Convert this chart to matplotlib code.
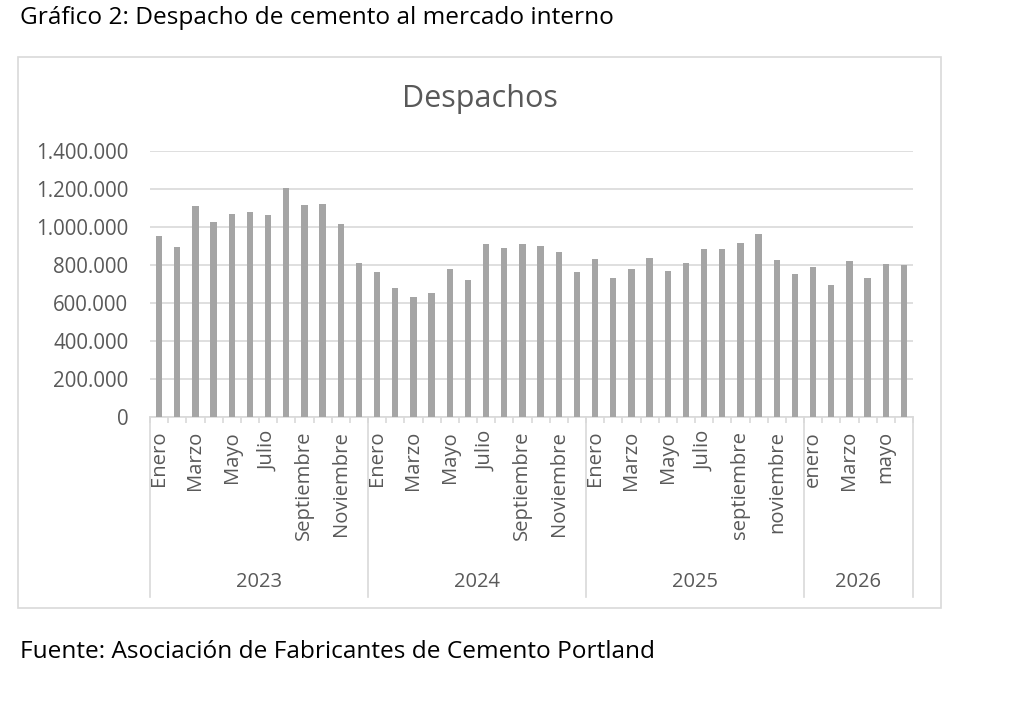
import numpy as np
import matplotlib
matplotlib.use("Agg")
import matplotlib.pyplot as plt
from matplotlib.patches import Rectangle
from matplotlib.ticker import FuncFormatter

# monthly dispatches (tn)
years = ["2023", "2024", "2025", "2026"]
despachos_2023 = [955000, 894000, 1111000, 1025000, 1071000, 1078000,
                  1064000, 1206000, 1116000, 1123000, 1017000, 808000]
despachos_2024 = [765000, 681000, 632000, 654000, 779000, 723000,
                  912000, 887000, 910000, 898000, 866000, 763000]
despachos_2025 = [830000, 733000, 779000, 835000, 770000, 808000,
                  886000, 884000, 915000, 964000, 826000, 753000]
despachos_2026 = [788000, 693000, 823000, 730000, 803000, 800000]

# month labels as shown (Excel skips every second one)
meses_2023 = ["Enero", "", "Marzo", "", "Mayo", "", "Julio", "",
              "Septiembre", "", "Noviembre", ""]
meses_2024 = ["Enero", "", "Marzo", "", "Mayo", "", "Julio", "",
              "Septiembre", "", "Noviembre", ""]
meses_2025 = ["Enero", "", "Marzo", "", "Mayo", "", "Julio", "",
              "septiembre", "", "noviembre", ""]
meses_2026 = ["enero", "", "Marzo", "", "mayo", ""]

series = [despachos_2023, despachos_2024, despachos_2025, despachos_2026]
labels = [meses_2023, meses_2024, meses_2025, meses_2026]

values = np.concatenate(series)
month_labels = sum(labels, [])
x = np.arange(len(values))

BAR = "#A5A5A5"
GRID = "#D9D9D9"
TXT = "#595959"
FONT = "Open Sans"
plt.rcParams["font.family"] = [FONT, "DejaVu Sans"]

W, H = 1024, 701
fig = plt.figure(figsize=(W / 100, H / 100), dpi=100)

# outer chart frame
fig.patches.append(Rectangle((18 / W, 1 - 608 / H), (941 - 18) / W, (608 - 57) / H,
                             transform=fig.transFigure, fill=False,
                             edgecolor=GRID, linewidth=1.2))

ax = fig.add_axes([150 / W, 1 - 417 / H, (913 - 150) / W, (417 - 151) / H])
ax.bar(x, values, width=0.35, color=BAR, zorder=3)
ax.set_xlim(-0.5, len(values) - 0.5)
ax.set_ylim(0, 1400000)
ax.set_yticks(np.arange(0, 1400001, 200000))
ax.yaxis.set_major_formatter(FuncFormatter(lambda v, p: f"{int(v):,}".replace(",", ".")))
ax.grid(axis="y", color=GRID, linewidth=1.2, zorder=0)
ax.tick_params(axis="y", length=0, pad=15.5, labelsize=14.8, labelcolor=TXT)

ax.set_xticks(x)
ax.set_xticklabels(month_labels, rotation=90, va="top", ha="center")
ax.tick_params(axis="x", which="major", length=0, pad=10, labelsize=14.6, labelcolor=TXT)
ax.set_xticks(np.arange(-0.5, len(values), 1), minor=True)
ax.tick_params(axis="x", which="minor", length=4, color=GRID, width=1.2)

for s in ["top", "right", "left"]:
    ax.spines[s].set_visible(False)
ax.spines["bottom"].set_color(GRID)
ax.spines["bottom"].set_linewidth(1.2)

# year group separators and labels
trans = ax.get_xaxis_transform()
start = 0
bounds = [-0.5]
for yr, s in zip(years, series):
    end = start + len(s)
    bounds.append(end - 0.5)
    ax.text((start + end - 1) / 2, -0.62, yr, transform=trans, ha="center",
            va="center", fontsize=14.5, color=TXT)
    start = end
for b in bounds:
    ax.plot([b, b], [0, -0.677], transform=trans, color=GRID, linewidth=1.2,
            clip_on=False)

fig.text(480 / W, 1 - 99 / H, "Despachos", ha="center", va="center",
         fontsize=22, color=TXT)

fig.text(20 / W, 1 - 18 / H, "Gráfico 2: Despacho de cemento al mercado interno",
         ha="left", va="center", fontsize=17.6, color="black")
fig.text(20 / W, 1 - 652 / H, "Fuente: Asociación de Fabricantes de Cemento Portland",
         ha="left", va="center", fontsize=17.6, color="black")

fig.savefig("out.png", dpi=100)
